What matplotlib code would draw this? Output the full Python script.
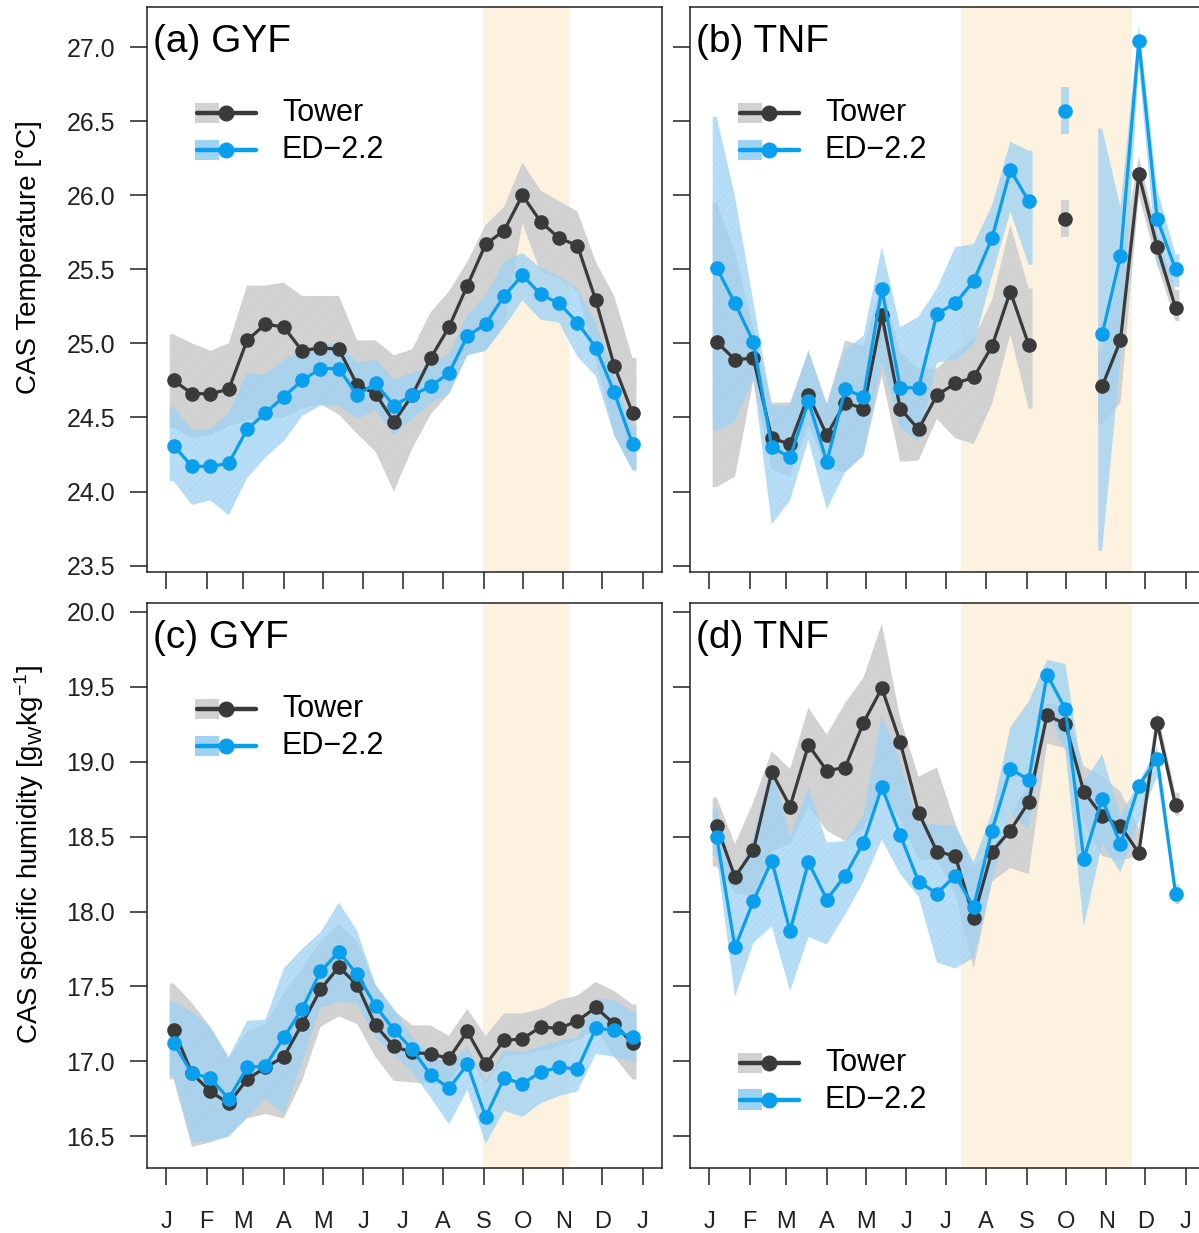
import numpy as np
import matplotlib
matplotlib.use("Agg")
import matplotlib.pyplot as plt
from matplotlib.patches import Rectangle

plt.rcParams['font.family'] = ['Liberation Sans', 'DejaVu Sans']
plt.rcParams['mathtext.fontset'] = 'custom'
plt.rcParams['mathtext.rm'] = 'Liberation Sans'
plt.rcParams['mathtext.it'] = 'Liberation Sans:italic'
plt.rcParams['hatch.linewidth'] = 0.3

nan = np.nan

# fortnightly averages, day of year of each point
day = 5.8 + 14.05 * np.arange(26)

month_ticks = [0, 31, 59, 90, 120, 151, 181, 212, 243, 273, 304, 334, 365]
month_labels = ["J", "F", "M", "A", "M", "J", "J", "A", "S", "O", "N", "D", "J"]

# dry season spans (day of year)
dry_gyf = (242.5, 308.5)
dry_tnf = (193.0, 324.0)

# ---- (a) GYF, CAS temperature ----
tower_temp_gyf = [24.75, 24.66, 24.66, 24.69, 25.02, 25.13, 25.11, 24.95, 24.97, 24.96, 24.72, 24.66, 24.47,
                  24.65, 24.90, 25.11, 25.39, 25.67, 25.76, 26.00, 25.82, 25.71, 25.66, 25.29, 24.85, 24.53]
tower_temp_gyf_hi = [25.06, 25.00, 24.95, 25.00, 25.39, 25.39, 25.41, 25.32, 25.32, 25.32, 25.02, 25.02, 24.92,
                     24.96, 25.21, 25.35, 25.55, 25.80, 25.92, 26.22, 26.03, 25.96, 25.89, 25.55, 25.32, 24.90]
tower_temp_gyf_lo = [24.43, 24.36, 24.38, 24.44, 24.48, 24.50, 24.50, 24.56, 24.59, 24.52, 24.39, 24.27, 24.00,
                     24.29, 24.52, 24.66, 24.92, 24.95, 25.12, 25.81, 25.48, 25.44, 25.35, 24.89, 24.38, 24.15]
ed_temp_gyf = [24.31, 24.17, 24.17, 24.19, 24.42, 24.53, 24.64, 24.75, 24.83, 24.83, 24.65, 24.73, 24.58,
               24.65, 24.71, 24.80, 25.05, 25.13, 25.32, 25.46, 25.33, 25.27, 25.14, 24.97, 24.67, 24.32]
ed_temp_gyf_hi = [24.57, 24.42, 24.42, 24.53, 24.80, 24.79, 24.89, 24.95, 25.00, 25.00, 24.87, 24.89, 24.76,
                  24.80, 24.85, 24.93, 25.19, 25.32, 25.55, 25.61, 25.51, 25.45, 25.37, 25.14, 24.78, 24.44]
ed_temp_gyf_lo = [24.07, 23.91, 23.94, 23.84, 24.09, 24.23, 24.34, 24.51, 24.58, 24.58, 24.49, 24.55, 24.38,
                  24.49, 24.60, 24.66, 24.92, 24.95, 25.11, 25.29, 25.16, 25.14, 24.91, 24.78, 24.38, 24.14]

# ---- (b) TNF, CAS temperature ----
tower_temp_tnf = [25.01, 24.89, 24.90, 24.36, 24.32, 24.65, 24.38, 24.60, 24.56, 25.19, 24.56, 24.42, 24.65,
                  24.73, 24.77, 24.98, 25.35, 24.99, nan, 25.84, nan, 24.71, 25.02, 26.14, 25.65, 25.24]
tower_temp_tnf_hi = [25.95, 25.62, 25.10, 24.60, 24.60, 24.95, 24.59, 25.02, 24.98, 25.40, 24.94, 24.83, 24.83,
                     24.94, 25.03, 25.29, 25.80, 25.37, nan, 25.97, nan, 24.95, 25.55, 26.26, 25.75, 25.36]
tower_temp_tnf_lo = [24.03, 24.10, 24.75, 24.15, 24.10, 24.45, 24.15, 24.13, 24.24, 24.78, 24.20, 24.21, 24.49,
                     24.36, 24.32, 24.59, 25.06, 24.56, nan, 25.72, nan, 24.45, 24.60, 26.00, 25.53, 25.15]
ed_temp_tnf = [25.51, 25.27, 25.01, 24.30, 24.23, 24.61, 24.20, 24.69, 24.64, 25.37, 24.70, 24.70, 25.20,
               25.27, 25.42, 25.71, 26.17, 25.96, nan, 26.57, nan, 25.06, 25.59, 27.04, 25.84, 25.50]
ed_temp_tnf_hi = [26.53, 25.99, 25.28, 24.58, 24.58, 24.95, 24.59, 24.96, 25.05, 25.65, 25.11, 25.18, 25.37,
                  25.65, 25.67, 25.93, 26.36, 26.30, nan, 26.73, nan, 26.45, 25.92, 27.15, 26.04, 25.60]
ed_temp_tnf_lo = [24.41, 24.47, 24.77, 23.78, 23.94, 24.35, 23.88, 24.13, 24.25, 24.87, 24.43, 24.34, 24.87,
                  24.89, 24.99, 25.45, 25.89, 25.53, nan, 26.41, nan, 23.60, 24.90, 26.88, 25.53, 25.38]

# ---- (c) GYF, CAS specific humidity ----
tower_hum_gyf = [17.21, 16.92, 16.80, 16.72, 16.88, 16.96, 17.03, 17.25, 17.48, 17.63, 17.51, 17.24, 17.10,
                 17.06, 17.05, 17.02, 17.20, 16.98, 17.14, 17.15, 17.23, 17.22, 17.27, 17.36, 17.25, 17.12]
tower_hum_gyf_hi = [17.52, 17.39, 17.23, 17.02, 17.20, 17.25, 17.45, 17.62, 17.80, 17.92, 17.80, 17.51, 17.34,
                    17.24, 17.24, 17.17, 17.35, 17.17, 17.32, 17.32, 17.35, 17.41, 17.44, 17.53, 17.47, 17.38]
tower_hum_gyf_lo = [16.88, 16.43, 16.46, 16.50, 16.62, 16.65, 16.62, 16.87, 17.23, 17.30, 17.25, 17.03, 16.87,
                    16.86, 16.85, 16.85, 17.05, 16.85, 17.03, 17.05, 17.07, 17.10, 17.14, 17.22, 17.03, 16.88]
ed_hum_gyf = [17.12, 16.92, 16.89, 16.75, 16.96, 16.97, 17.16, 17.35, 17.60, 17.73, 17.58, 17.37, 17.21,
              17.08, 16.91, 16.82, 16.98, 16.63, 16.89, 16.85, 16.93, 16.96, 16.95, 17.22, 17.21, 17.16]
ed_hum_gyf_hi = [17.40, 17.33, 17.23, 17.03, 17.27, 17.28, 17.62, 17.75, 17.86, 18.06, 17.87, 17.51, 17.35,
                 17.16, 17.05, 16.97, 17.10, 16.87, 17.08, 17.06, 17.10, 17.14, 17.16, 17.42, 17.41, 17.33]
ed_hum_gyf_lo = [16.90, 16.46, 16.47, 16.50, 16.63, 16.75, 16.65, 17.00, 17.36, 17.40, 17.38, 17.16, 17.05,
                 16.93, 16.76, 16.58, 16.81, 16.45, 16.67, 16.63, 16.72, 16.77, 16.80, 17.05, 17.03, 17.00]

# ---- (d) TNF, CAS specific humidity ----
tower_hum_tnf = [18.57, 18.23, 18.41, 18.93, 18.70, 19.11, 18.94, 18.96, 19.26, 19.49, 19.13, 18.66, 18.40,
                 18.37, 17.96, 18.40, 18.54, 18.73, 19.31, 19.25, 18.80, 18.64, 18.57, 18.39, 19.26, 18.71]
tower_hum_tnf_hi = [18.76, 18.45, 18.73, 19.07, 18.95, 19.36, 19.18, 19.39, 19.56, 19.92, 19.29, 18.90, 18.96,
                    18.59, 18.30, 18.41, 18.64, 18.86, 19.39, 19.37, 18.97, 18.90, 18.80, 18.55, 19.34, 18.79]
tower_hum_tnf_lo = [18.30, 18.12, 18.10, 18.40, 18.45, 18.70, 18.54, 18.47, 18.55, 18.80, 18.61, 18.35, 18.34,
                    18.12, 17.62, 18.20, 18.29, 18.25, 19.12, 19.09, 18.59, 18.37, 18.34, 18.37, 19.22, 18.64]
ed_hum_tnf = [18.50, 17.76, 18.07, 18.34, 17.87, 18.33, 18.08, 18.24, 18.46, 18.83, 18.51, 18.20, 18.12,
              18.24, 18.03, 18.54, 18.95, 18.88, 19.58, 19.35, 18.35, 18.75, 18.45, 18.84, 19.02, 18.12]
ed_hum_tnf_hi = [18.69, 18.20, 18.50, 18.99, 18.50, 18.83, 18.46, 18.47, 18.64, 19.31, 19.00, 18.59, 18.58,
                 18.57, 18.33, 18.66, 19.23, 19.40, 19.68, 19.65, 18.86, 19.05, 18.64, 18.86, 19.10, 18.18]
ed_hum_tnf_lo = [18.37, 17.43, 17.79, 17.90, 17.47, 17.83, 17.78, 17.98, 18.20, 18.48, 18.25, 18.10, 17.66,
                 17.62, 17.69, 18.20, 18.65, 18.55, 19.35, 19.07, 17.90, 18.45, 18.26, 18.60, 18.90, 18.05]

temp_ticks = [23.5, 24.0, 24.5, 25.0, 25.5, 26.0, 26.5, 27.0]
hum_ticks = [16.5, 17.0, 17.5, 18.0, 18.5, 19.0, 19.5, 20.0]

TOWER = "#3a3a3a"
TOWER_BAND = "#d2d2d2"
ED = "#0a9fee"
ED_BAND = "#9fd3f3"
DRY = "#fdf2df"


def draw_band(ax, x, lo, hi, color, alpha, hatch_color):
    """Fill the uncertainty band, split where data are missing."""
    lo = np.asarray(lo, float)
    hi = np.asarray(hi, float)
    idx = np.where(~np.isnan(lo))[0]
    # contiguous runs of valid points
    runs = np.split(idx, np.where(np.diff(idx) != 1)[0] + 1)
    for r in runs:
        xs = np.concatenate([[x[r[0]] - 3.0], x[r], [x[r[-1]] + 3.0]])
        ls = np.concatenate([[lo[r[0]]], lo[r], [lo[r[-1]]]])
        hs = np.concatenate([[hi[r[0]]], hi[r], [hi[r[-1]]]])
        ax.fill_between(xs, ls, hs, facecolor=color, alpha=alpha, edgecolor=hatch_color,
                        hatch='/////', linewidth=0, zorder=2)


def draw_legend(ax, y0, y1):
    """Legend drawn by hand: band swatch, line with dot, label."""
    rows = [(y0, "Tower", TOWER, TOWER_BAND, "#cdcdcd"), (y1, "ED\u22122.2", ED, ED_BAND, "#9acff1")]
    for y, label, lc, bc, hc in rows:
        ax.add_patch(Rectangle((0.093, y - 0.018), 0.047, 0.036, transform=ax.transAxes,
                               facecolor=bc, edgecolor=hc, hatch='/////', linewidth=0, zorder=6))
        ax.plot([0.097, 0.212], [y, y], transform=ax.transAxes, color=lc, lw=3.2, zorder=7,
                solid_capstyle='round')
        ax.plot([0.153], [y], transform=ax.transAxes, marker='o', ms=10.5, color=lc, zorder=8)
        ax.text(0.262, y, label, transform=ax.transAxes, fontsize=22, va='center', ha='left', zorder=8)


def draw_panel(ax, tw, tw_lo, tw_hi, ed, ed_lo, ed_hi, dry, title, ylim, yticks,
               leg_rows, show_xlabels, show_ylabels):
    ax.axvspan(dry[0], dry[1], color=DRY, lw=0, zorder=1)
    draw_band(ax, day, tw_lo, tw_hi, TOWER_BAND, 1.0, "#cdcdcd")
    draw_band(ax, day, ed_lo, ed_hi, ED_BAND, 0.75, "#9acff1")
    ax.plot(day, tw, color=TOWER, lw=2.3, marker='o', ms=9.5, zorder=4)
    ax.plot(day, ed, color=ED, lw=2.3, marker='o', ms=9.5, zorder=5)

    ax.set_xlim(-14.6, 379.6)
    ax.set_ylim(*ylim)
    ax.set_xticks(month_ticks)
    ax.set_yticks(yticks)
    if show_xlabels:
        ax.set_xticklabels(month_labels)
    else:
        ax.set_xticklabels([])
    if show_ylabels:
        ax.set_yticklabels(["%.1f" % v for v in yticks])
    else:
        ax.set_yticklabels([])
    ax.tick_params(axis='x', direction='out', length=12, width=1.1, pad=19, labelsize=17, colors='#222222')
    ax.tick_params(axis='y', direction='out', length=12, width=1.1, pad=11, labelsize=18, colors='#222222')
    for s in ax.spines.values():
        s.set_linewidth(1.1)
        s.set_color('#222222')
    ax.text(0.012, 0.92, title, transform=ax.transAxes, fontsize=28, ha='left', va='baseline', zorder=9)
    draw_legend(ax, *leg_rows)


if __name__ == "__main__":
    W, H = 1199, 1233
    fig = plt.figure(figsize=(W / 100, H / 100), dpi=100, facecolor='white')

    def px_axes(left, top, width, height):
        return fig.add_axes([left / W, 1 - (top + height) / H, width / W, height / H])

    ax_a = px_axes(147, 7, 515, 565)
    ax_b = px_axes(690, 7, 515, 565)
    ax_c = px_axes(147, 603, 515, 565)
    ax_d = px_axes(690, 603, 515, 565)

    temp_lim = (23.457, 27.27)
    hum_lim = (16.289, 20.058)

    draw_panel(ax_a, tower_temp_gyf, tower_temp_gyf_lo, tower_temp_gyf_hi,
               ed_temp_gyf, ed_temp_gyf_lo, ed_temp_gyf_hi, dry_gyf, "(a) GYF",
               temp_lim, temp_ticks, (0.812, 0.747), False, True)
    draw_panel(ax_b, tower_temp_tnf, tower_temp_tnf_lo, tower_temp_tnf_hi,
               ed_temp_tnf, ed_temp_tnf_lo, ed_temp_tnf_hi, dry_tnf, "(b) TNF",
               temp_lim, temp_ticks, (0.812, 0.747), False, False)
    draw_panel(ax_c, tower_hum_gyf, tower_hum_gyf_lo, tower_hum_gyf_hi,
               ed_hum_gyf, ed_hum_gyf_lo, ed_hum_gyf_hi, dry_gyf, "(c) GYF",
               hum_lim, hum_ticks, (0.812, 0.747), True, True)
    draw_panel(ax_d, tower_hum_tnf, tower_hum_tnf_lo, tower_hum_tnf_hi,
               ed_hum_tnf, ed_hum_tnf_lo, ed_hum_tnf_hi, dry_tnf, "(d) TNF",
               hum_lim, hum_ticks, (0.186, 0.121), True, False)

    fig.text(29 / W, 1 - 257 / H, "CAS Temperature [\u00b0C]", rotation=90, fontsize=20,
             ha='center', va='center')
    fig.text(29 / W, 1 - 855 / H, r"CAS specific humidity [g$_\mathrm{W}$kg$^{-1}$]", rotation=90,
             fontsize=20, ha='center', va='center')

    fig.savefig("out.png", dpi=100, facecolor='white')
